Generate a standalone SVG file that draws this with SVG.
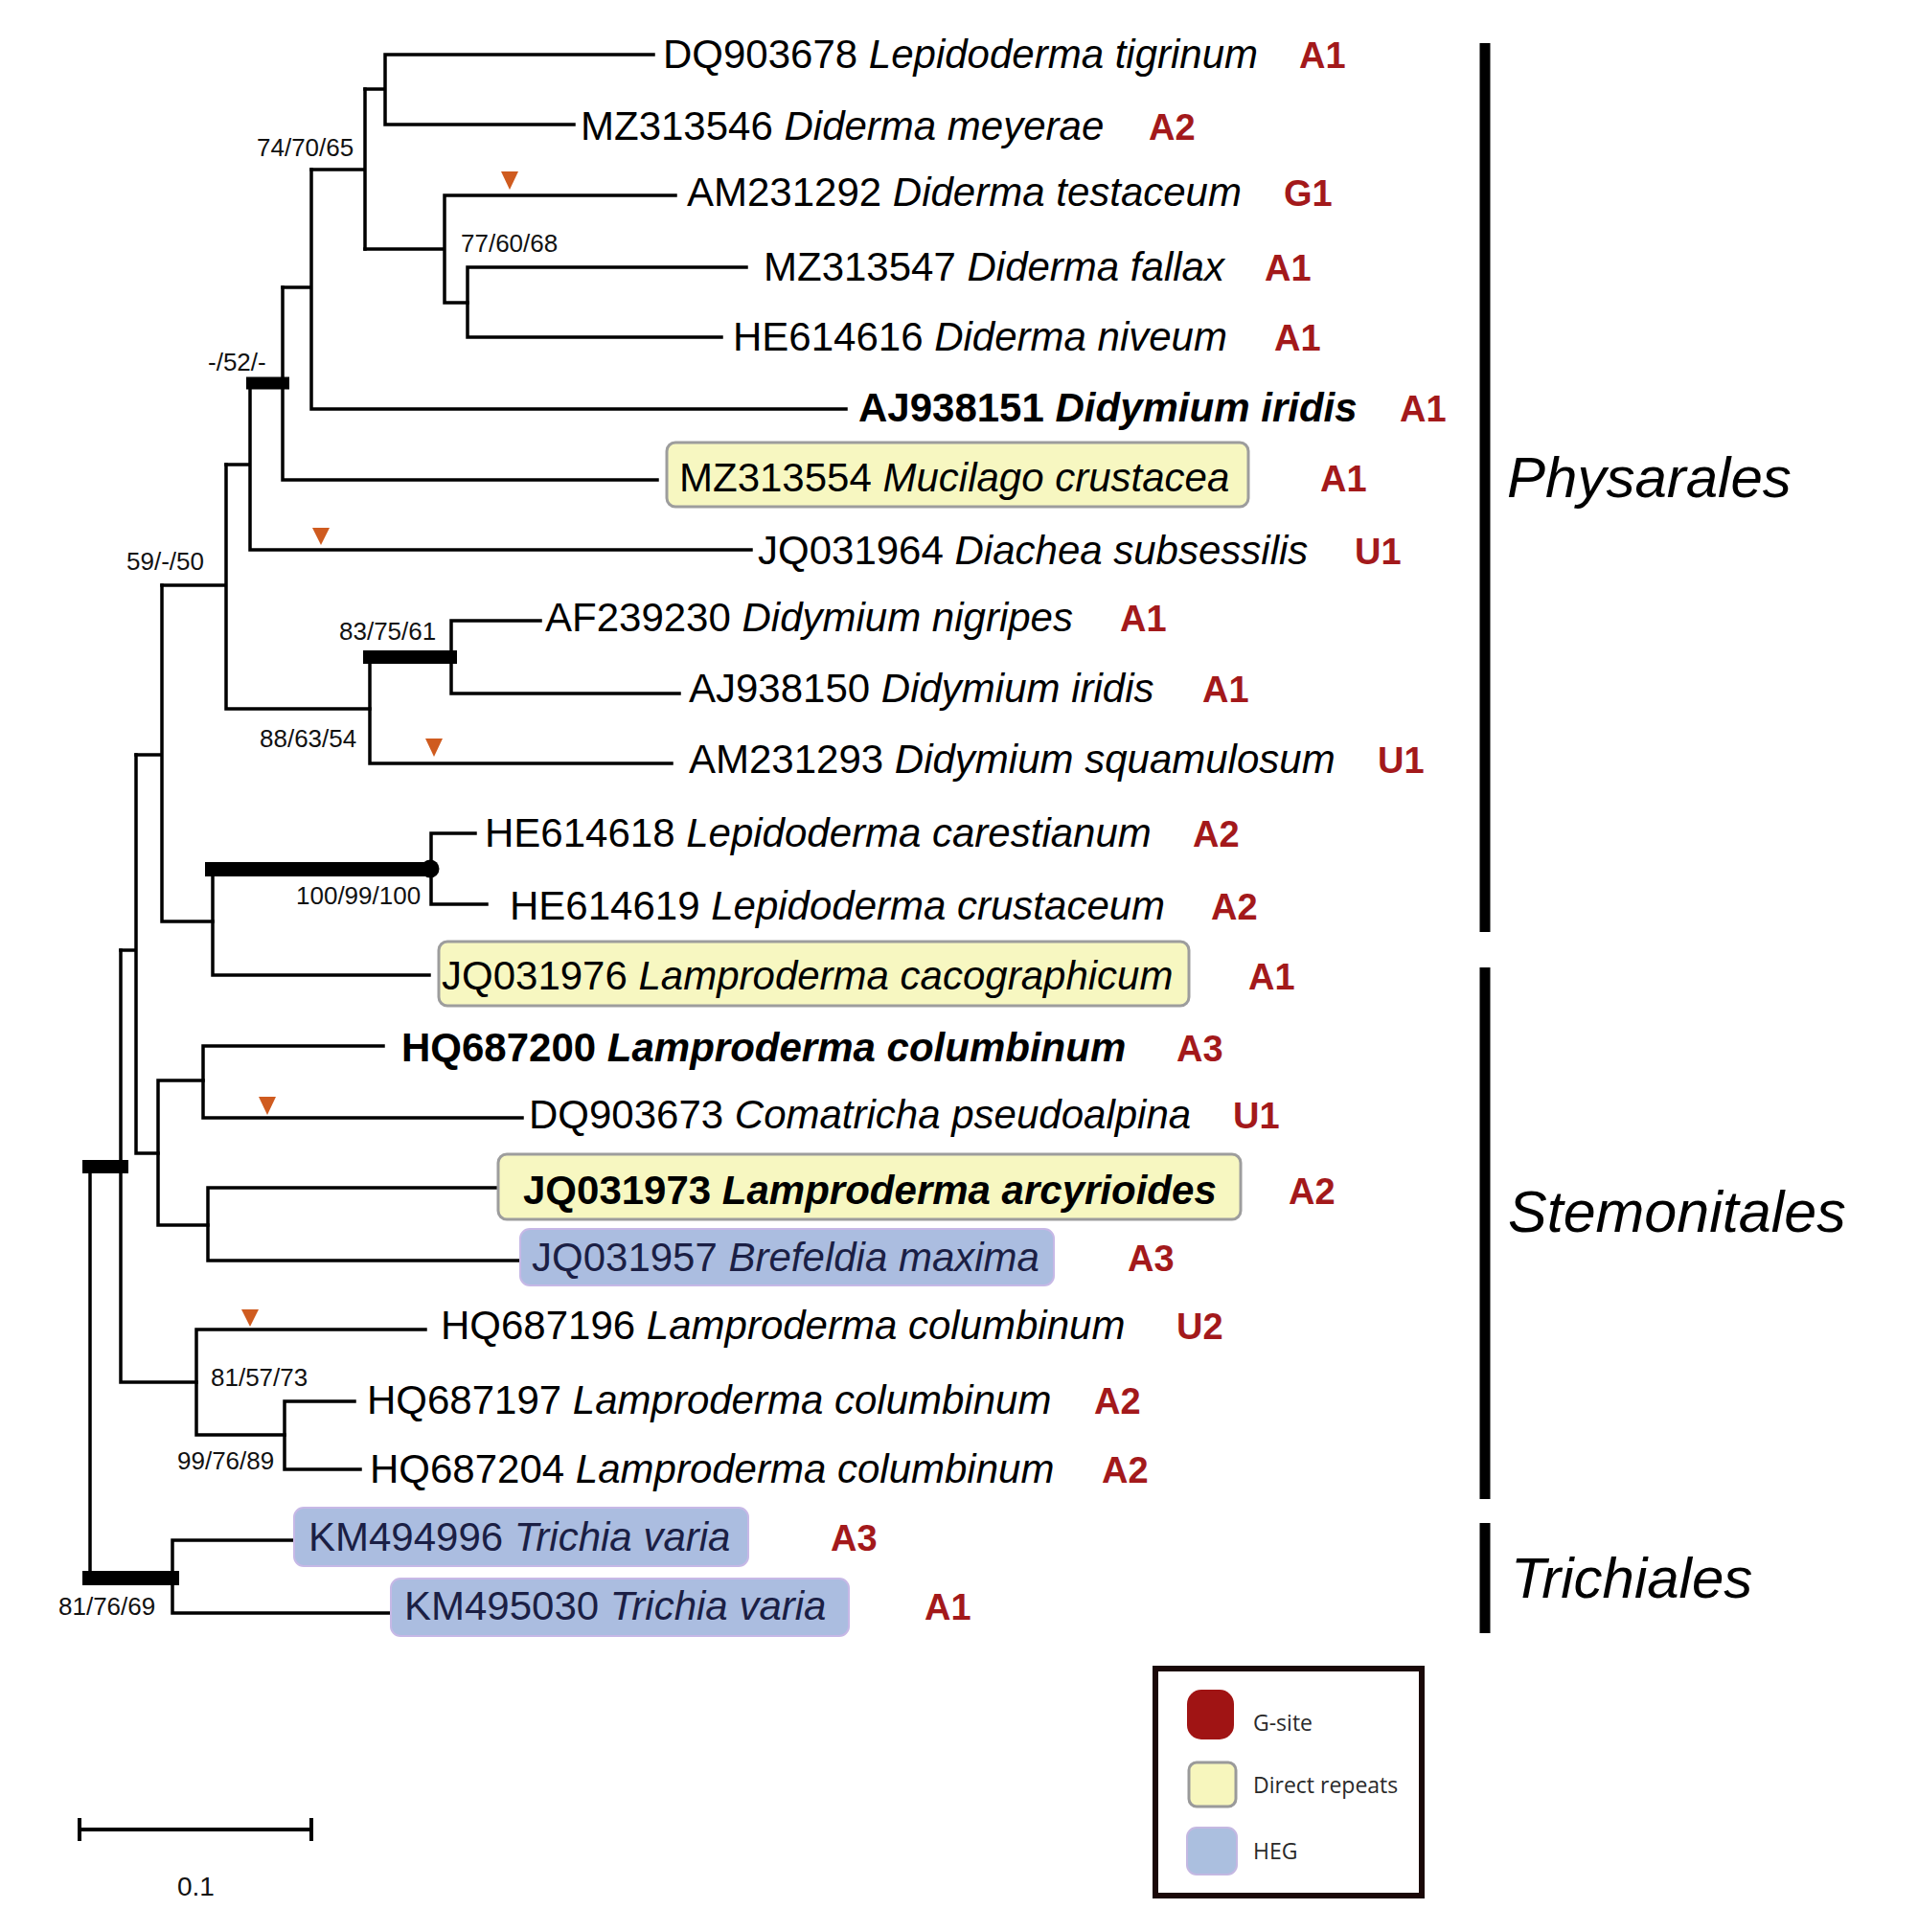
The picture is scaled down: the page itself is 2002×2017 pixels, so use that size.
<svg xmlns="http://www.w3.org/2000/svg" width="2002" height="2017" viewBox="0 0 2002 2017">
<style>
.br{stroke:#000;stroke-width:3.5;fill:none;stroke-linecap:square}
.bar{fill:#000}
.t{font-family:"Liberation Sans",Arial,sans-serif;font-size:42px;fill:#000}
.n{fill:#1b1f45}
.i{font-style:italic}
.b{font-weight:bold}
.r{font-family:"Liberation Sans",Arial,sans-serif;font-size:38px;font-weight:bold;fill:#a3191b}
.s{font-family:"Liberation Sans",Arial,sans-serif;font-size:26px;fill:#111}
.yb{fill:#f7f7c1;stroke:#9d9d9d;stroke-width:3}
.hb{fill:#abbde0;stroke:#c6b8e6;stroke-width:2}
.tri{fill:#cf5b1f}
.grp{font-family:"Liberation Sans",Arial,sans-serif;font-size:60px;font-style:italic;fill:#000}
.cbar{fill:#000}
.lg{font-family:"Open Sans","Liberation Sans",sans-serif;font-size:23px;fill:#2a2a2a}
</style>
<rect width="2002" height="2017" fill="#fff"/>

<g id="connectors">
<path class="br" d="M402,57V130M402,57H682M402,130H599M381,93H402"/>
<path class="br" d="M464,204V316M464,204H705M381,260H464M464,316H488"/>
<path class="br" d="M488,279V352M488,279H779M488,352H753"/>
<path class="br" d="M381,93V260M325,177H381"/>
<path class="br" d="M325,177V427M325,427H883M295,300H325"/>
<path class="br" d="M295,300V501M295,501H686"/>
<rect class="bar" x="257" y="393.5" width="45" height="13"/>
<path class="br" d="M261,400V574M261,574H784M236,485H261"/>
<path class="br" d="M236,485V740M236,740H386M169,611H236"/>
<path class="br" d="M386,686V797M386,797H701"/>
<rect class="bar" x="379" y="679" width="98" height="14"/>
<path class="br" d="M471,648V724M471,648H564M471,724H709"/>
<path class="br" d="M169,611V962M169,962H222M142,788H169"/>
<path class="br" d="M222,907V1018M222,1018H448"/>
<rect class="bar" x="214" y="900" width="236" height="15"/>
<circle cx="449" cy="907" r="9.5" fill="#000"/>
<path class="br" d="M450,870V944M450,870H496M450,944H508"/>
<path class="br" d="M142,788V1204M142,1204H165M126,992H142"/>
<path class="br" d="M165,1128V1279M165,1128H212M165,1279H217"/>
<path class="br" d="M212,1092V1167M212,1092H400M212,1167H545"/>
<path class="br" d="M217,1240V1316M217,1240H520M217,1316H542"/>
<path class="br" d="M126,992V1443M126,1443H205"/>
<rect class="bar" x="86" y="1211" width="48" height="14"/>
<path class="br" d="M205,1388V1498M205,1388H444M205,1498H297"/>
<path class="br" d="M297,1463V1534M297,1463H370M297,1534H376"/>
<path class="br" d="M94,1218V1647"/>
<rect class="bar" x="86" y="1640" width="101" height="15"/>
<path class="br" d="M180,1608V1684M180,1608H306M180,1684H408"/>
</g>

<g id="markers">
<polygon class="tri" points="523,179 541,179 532,198"/>
<polygon class="tri" points="326,551 344,551 335,569"/>
<polygon class="tri" points="444,771 462,771 453,790"/>
<polygon class="tri" points="270,1145 288,1145 279,1164"/>
<polygon class="tri" points="252,1367 270,1367 261,1385"/>
</g>

<g id="support">
<text class="s" x="268" y="163">74/70/65</text>
<text class="s" x="481" y="263">77/60/68</text>
<text class="s" x="217" y="387">-/52/-</text>
<text class="s" x="132" y="595">59/-/50</text>
<text class="s" x="354" y="668">83/75/61</text>
<text class="s" x="271" y="780">88/63/54</text>
<text class="s" x="309" y="944">100/99/100</text>
<text class="s" x="220" y="1447">81/57/73</text>
<text class="s" x="185" y="1534">99/76/89</text>
<text class="s" x="61" y="1686">81/76/69</text>
</g>

<g id="leaf1"><text class="t" x="692" y="71">DQ903678 <tspan class="i">Lepidoderma tigrinum</tspan></text><text class="r" x="1356" y="71">A1</text></g>
<g id="leaf2"><text class="t" x="606" y="146">MZ313546 <tspan class="i">Diderma meyerae</tspan></text><text class="r" x="1199" y="146">A2</text></g>
<g id="leaf3"><text class="t" x="717" y="215">AM231292 <tspan class="i">Diderma testaceum</tspan></text><text class="r" x="1340" y="215">G1</text></g>
<g id="leaf4"><text class="t" x="797" y="293">MZ313547 <tspan class="i">Diderma fallax</tspan></text><text class="r" x="1320" y="293">A1</text></g>
<g id="leaf5"><text class="t" x="765" y="366">HE614616 <tspan class="i">Diderma niveum</tspan></text><text class="r" x="1330" y="366">A1</text></g>
<g id="leaf6"><text class="t b" x="896" y="440">AJ938151 <tspan class="i">Didymium iridis</tspan></text><text class="r" x="1461" y="440">A1</text></g>
<g id="leaf7"><rect class="yb" x="696" y="462" width="607" height="67" rx="9"/><text class="t" x="709" y="513">MZ313554 <tspan class="i">Mucilago crustacea</tspan></text><text class="r" x="1378" y="513">A1</text></g>
<g id="leaf8"><text class="t" x="791" y="589">JQ031964 <tspan class="i">Diachea subsessilis</tspan></text><text class="r" x="1414" y="589">U1</text></g>
<g id="leaf9"><text class="t" x="569" y="659">AF239230 <tspan class="i">Didymium nigripes</tspan></text><text class="r" x="1169" y="659">A1</text></g>
<g id="leaf10"><text class="t" x="719" y="733">AJ938150 <tspan class="i">Didymium iridis</tspan></text><text class="r" x="1255" y="733">A1</text></g>
<g id="leaf11"><text class="t" x="719" y="807">AM231293 <tspan class="i">Didymium squamulosum</tspan></text><text class="r" x="1438" y="807">U1</text></g>
<g id="leaf12"><text class="t" x="506" y="884">HE614618 <tspan class="i">Lepidoderma carestianum</tspan></text><text class="r" x="1245" y="884">A2</text></g>
<g id="leaf13"><text class="t" x="532" y="960">HE614619 <tspan class="i">Lepidoderma crustaceum</tspan></text><text class="r" x="1264" y="960">A2</text></g>
<g id="leaf14"><rect class="yb" x="458" y="983" width="783" height="67" rx="9"/><text class="t" x="461" y="1033">JQ031976 <tspan class="i">Lamproderma cacographicum</tspan></text><text class="r" x="1303" y="1033">A1</text></g>
<g id="leaf15"><text class="t b" x="419" y="1108">HQ687200 <tspan class="i">Lamproderma columbinum</tspan></text><text class="r" x="1228" y="1108">A3</text></g>
<g id="leaf16"><text class="t" x="552" y="1178">DQ903673 <tspan class="i">Comatricha pseudoalpina</tspan></text><text class="r" x="1287" y="1178">U1</text></g>
<g id="leaf17"><rect class="yb" x="520" y="1205" width="775" height="68" rx="9"/><text class="t b" x="546" y="1257">JQ031973 <tspan class="i">Lamproderma arcyrioides</tspan></text><text class="r" x="1345" y="1257">A2</text></g>
<g id="leaf18"><rect class="hb" x="543" y="1283" width="557" height="59" rx="10"/><text class="t n" x="555" y="1327">JQ031957 <tspan class="i">Brefeldia maxima</tspan></text><text class="r" x="1177" y="1327">A3</text></g>
<g id="leaf19"><text class="t" x="460" y="1398">HQ687196 <tspan class="i">Lamproderma columbinum</tspan></text><text class="r" x="1228" y="1398">U2</text></g>
<g id="leaf20"><text class="t" x="383" y="1476">HQ687197 <tspan class="i">Lamproderma columbinum</tspan></text><text class="r" x="1142" y="1476">A2</text></g>
<g id="leaf21"><text class="t" x="386" y="1548">HQ687204 <tspan class="i">Lamproderma columbinum</tspan></text><text class="r" x="1150" y="1548">A2</text></g>
<g id="leaf22"><rect class="hb" x="307" y="1574" width="474" height="61" rx="10"/><text class="t n" x="322" y="1619">KM494996 <tspan class="i">Trichia varia</tspan></text><text class="r" x="867" y="1619">A3</text></g>
<g id="leaf23"><rect class="hb" x="408" y="1648" width="478" height="60" rx="10"/><text class="t n" x="422" y="1691">KM495030 <tspan class="i">Trichia varia</tspan></text><text class="r" x="965" y="1691">A1</text></g>

<g id="clades">
<rect class="cbar" x="1544.5" y="45" width="11" height="928"/>
<text class="grp" x="1573" y="519">Physarales</text>
<rect class="cbar" x="1544.5" y="1010" width="11" height="555"/>
<text class="grp" x="1574" y="1286" style="font-size:61px">Stemonitales</text>
<rect class="cbar" x="1544.5" y="1590" width="11" height="115"/>
<text class="grp" x="1577" y="1668">Trichiales</text>
</g>

<g id="legend">
<rect x="1206" y="1742" width="278" height="237" fill="#fff" stroke="#1a0808" stroke-width="6"/>
<rect x="1239" y="1764" width="49" height="52" rx="15" fill="#a01414"/>
<text class="lg" x="1308" y="1807">G-site</text>
<rect x="1241" y="1840" width="49" height="46" rx="8" fill="#f7f6bd" stroke="#9a9a9a" stroke-width="3"/>
<text class="lg" x="1308" y="1872">Direct repeats</text>
<rect x="1239" y="1908" width="52" height="49" rx="10" fill="#abbfdf" stroke="#c4b8e2" stroke-width="2"/>
<text class="lg" x="1308" y="1941">HEG</text>
</g>

<g id="scale">
<path d="M83,1910H325M83,1898V1922M325,1898V1922" stroke="#000" stroke-width="4" fill="none"/>
<text class="s" x="185" y="1979" style="font-size:28px">0.1</text>
</g>
</svg>
